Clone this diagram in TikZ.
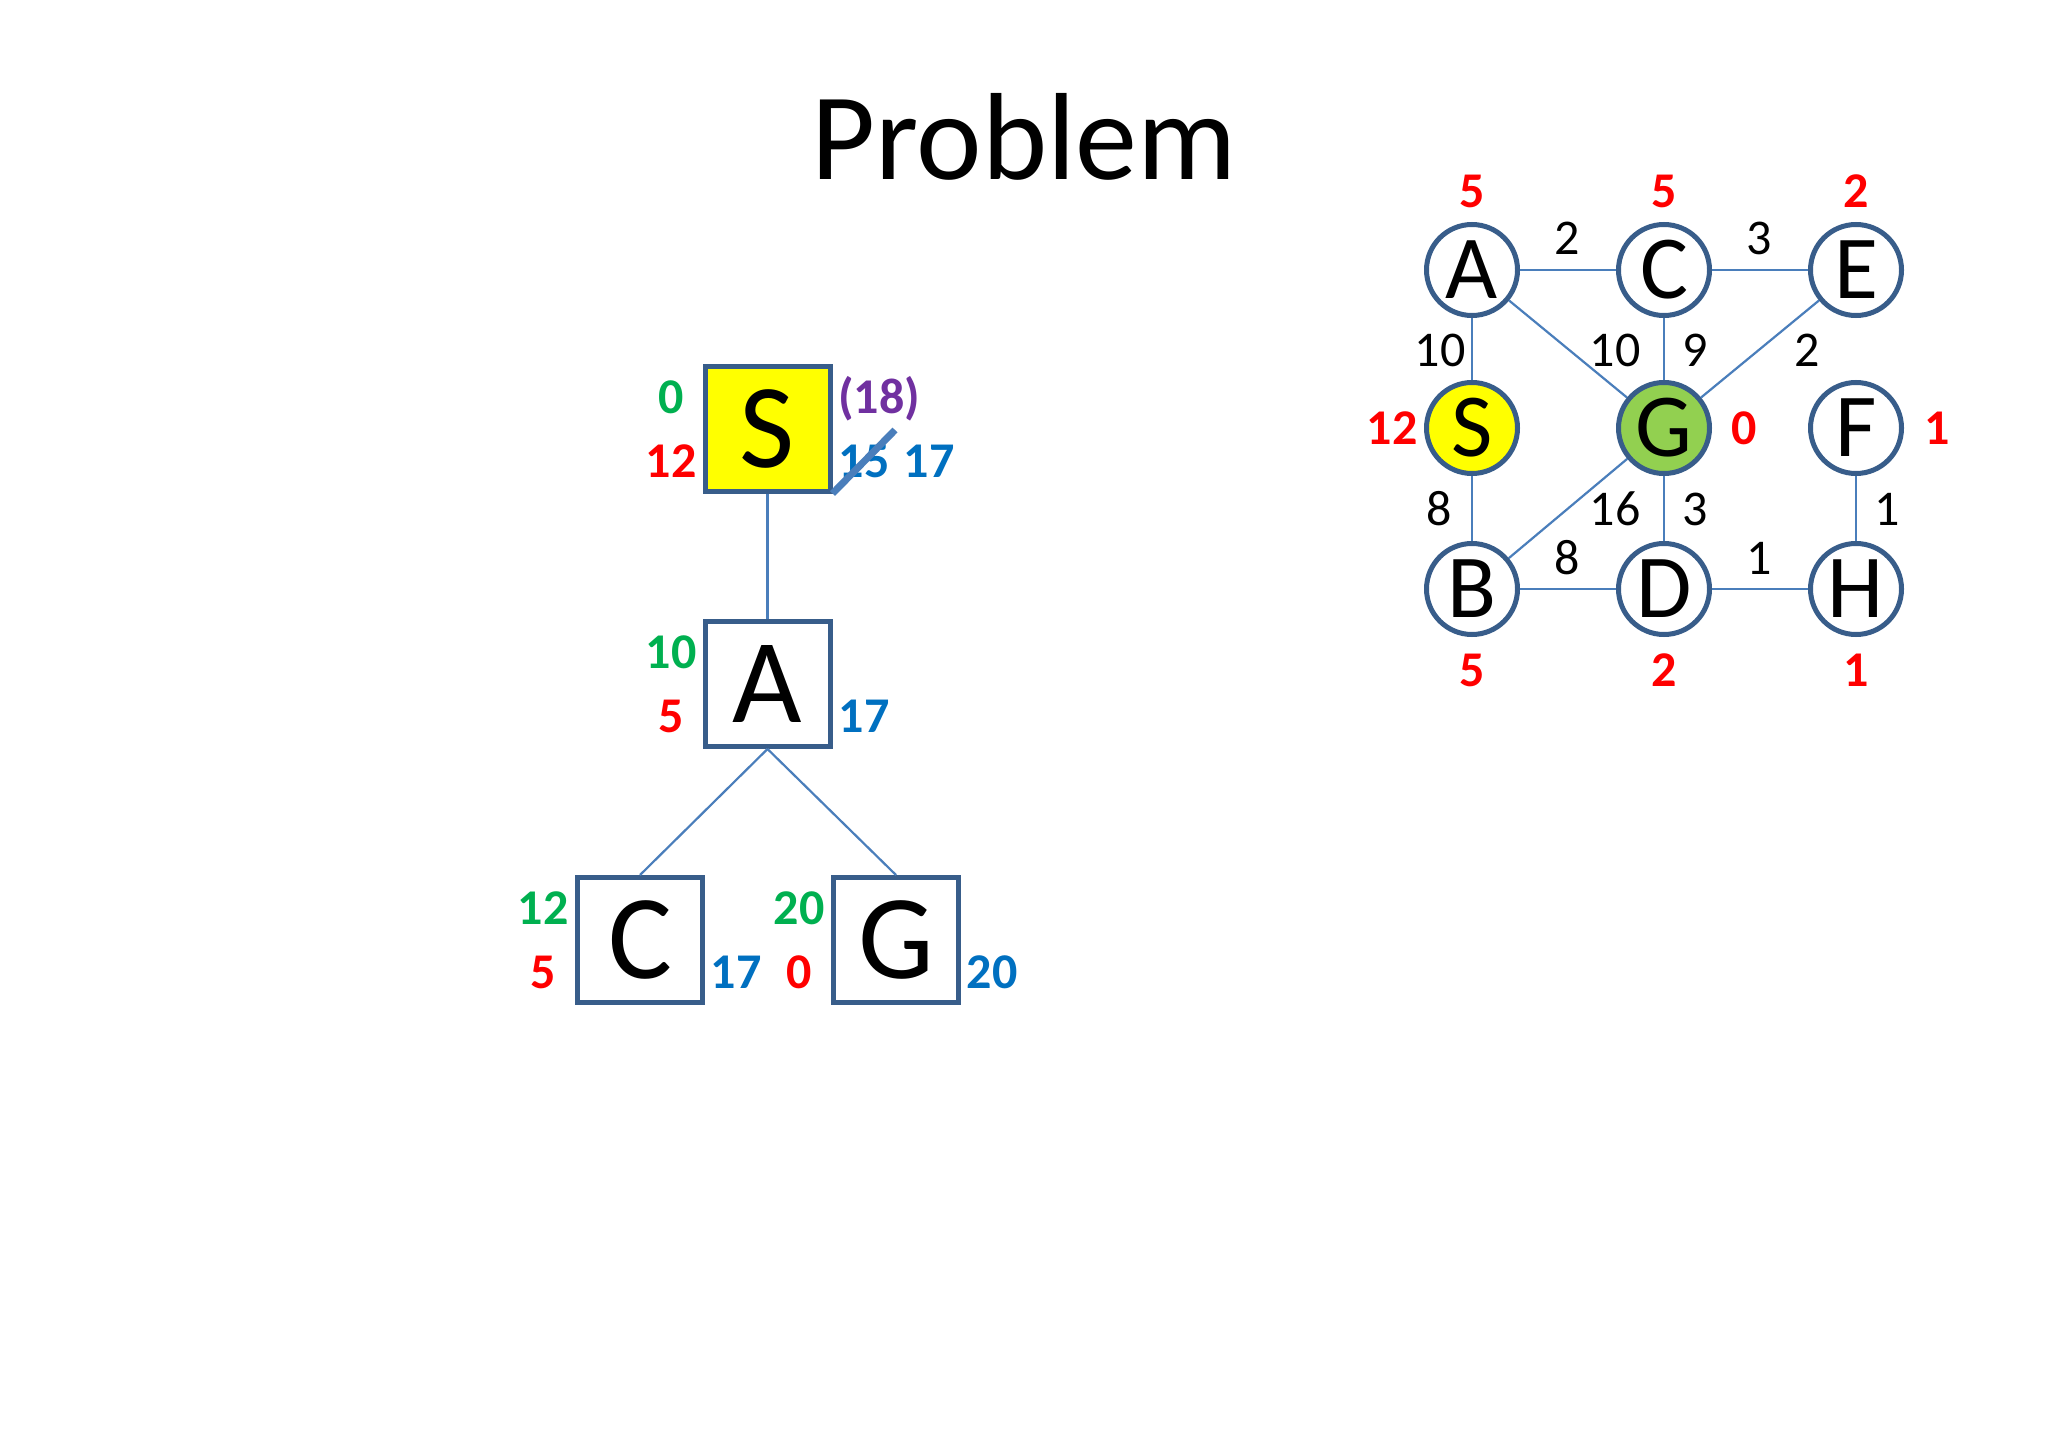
\documentclass[tikz,border=0pt]{standalone}
\usepackage{fontspec}
\setmainfont{Carlito}
\definecolor{boxblue}{HTML}{385D8A}
\definecolor{edgeblue}{HTML}{4A7EBB}
\definecolor{lgreen}{HTML}{00B050}
\definecolor{lred}{HTML}{FF0000}
\definecolor{lpurple}{HTML}{7030A0}
\definecolor{lblue}{HTML}{0070C0}
\definecolor{ggreen}{HTML}{92D050}
\definecolor{pureyellow}{HTML}{FFFF00}
\begin{document}
\begin{tikzpicture}[x=1pt,y=-1pt,
  tbox/.style={draw=boxblue, line width=5pt, minimum size=125pt, inner sep=0pt, fill=white, font=\fontsize{120}{120}\selectfont},
  gnode/.style={circle, draw=boxblue, line width=5pt, minimum size=91pt, inner sep=0pt, fill=white, font=\fontsize{90}{90}\selectfont},
  conn/.style={draw=edgeblue, line width=2.2pt},
  lab/.style={anchor=base, inner sep=0pt, font=\bfseries\fontsize{50}{50}\selectfont},
  glab/.style={anchor=center, inner sep=0pt, font=\bfseries\fontsize{50}{50}\selectfont, text=lred},
  wlab/.style={anchor=center, inner sep=0pt, font=\fontsize{50}{50}\selectfont}
]
\useasboundingbox (0,0) rectangle (2048,1434);
\fill[white] (0,0) rectangle (2048,1434);

\node[anchor=base, inner sep=0pt, font=\fontsize{124}{124}\selectfont] (title) at (1024,180) {Problem};

% search tree
\node[tbox, fill=pureyellow] (tS) at (767.5,428.5) {S};
\node[tbox] (tA) at (767.5,684) {A};
\node[tbox] (tC) at (640,940) {C};
\node[tbox] (tG) at (896,940) {G};
\draw[conn] (tS.south) -- (tA.north);
\draw[conn] (tA.south) -- (tC.north);
\draw[conn] (tA.south) -- (tG.north);

\node[lab, text=lgreen] (sg) at (671,413) {0};
\node[lab, text=lred] (sh) at (671,477) {12};
\node[lab, text=lpurple] (sp) at (879,413) {(18)};
\node[lab, text=lblue] (sf1) at (864,477) {15};
\node[lab, text=lblue] (sf2) at (929,477) {17};
\coordinate (slashend) at (895,430);
\draw[draw=edgeblue, line width=7pt] (tS.south east) -- (slashend);

\node[lab, text=lgreen] (ag) at (671,668.5) {10};
\node[lab, text=lred] (ah) at (671,732.5) {5};
\node[lab, text=lblue] (af) at (864,732.5) {17};

\node[lab, text=lgreen] (cg) at (543,924.5) {12};
\node[lab, text=lred] (ch) at (543,988.5) {5};
\node[lab, text=lblue] (cf) at (736,988.5) {17};

\node[lab, text=lgreen] (gg) at (799,924.5) {20};
\node[lab, text=lred] (gh) at (799,988.5) {0};
\node[lab, text=lblue] (gf) at (992,988.5) {20};

% graph
\node[gnode] (A) at (1472,270) {A};
\node[gnode] (C) at (1664,270) {C};
\node[gnode] (E) at (1856,270) {E};
\node[gnode, fill=pureyellow] (S) at (1472,428) {S};
\node[gnode, fill=ggreen] (G) at (1664,428) {G};
\node[gnode] (F) at (1856,428) {F};
\node[gnode] (B) at (1472,589) {B};
\node[gnode] (D) at (1664,589) {D};
\node[gnode] (H) at (1856,589) {H};

\draw[conn] (A) -- (C);
\draw[conn] (C) -- (E);
\draw[conn] (A) -- (S);
\draw[conn] (A) -- (G);
\draw[conn] (C) -- (G);
\draw[conn] (E) -- (G);
\draw[conn] (S) -- (B);
\draw[conn] (G) -- (B);
\draw[conn] (G) -- (D);
\draw[conn] (B) -- (D);
\draw[conn] (D) -- (H);
\draw[conn] (F) -- (H);

\node[glab] (hA) at (1472,191) {5};
\node[glab] (hC) at (1664,191) {5};
\node[glab] (hE) at (1856,191) {2};
\node[glab] (hS) at (1392,428) {12};
\node[glab] (hG) at (1744,428) {0};
\node[glab] (hF) at (1937,428) {1};
\node[glab] (hB) at (1472,670) {5};
\node[glab] (hD) at (1664,670) {2};
\node[glab] (hH) at (1856,670) {1};

\node[wlab] (wAC) at (1567,238) {2};
\node[wlab] (wCE) at (1759,238) {3};
\node[wlab] (wAS) at (1440,350) {10};
\node[wlab] (wAG) at (1615,350) {10};
\node[wlab] (wCG) at (1695,350) {9};
\node[wlab] (wEG) at (1807,350) {2};
\node[wlab] (wSB) at (1439,509) {8};
\node[wlab] (wGB) at (1615,509) {16};
\node[wlab] (wGD) at (1695,509) {3};
\node[wlab] (wFH) at (1887,509) {1};
\node[wlab] (wBD) at (1567,558) {8};
\node[wlab] (wDH) at (1759,558) {1};
\end{tikzpicture}
\end{document}
